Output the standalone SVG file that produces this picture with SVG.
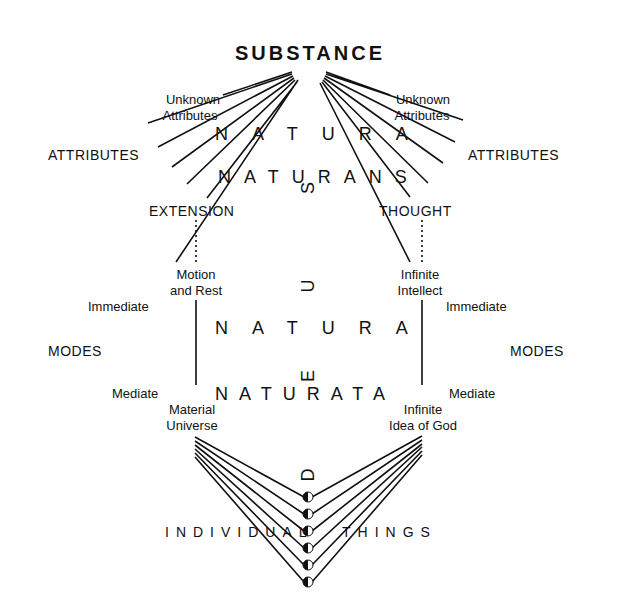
<svg xmlns="http://www.w3.org/2000/svg" width="617" height="615" viewBox="0 0 617 615">
<style>
text{font-family:"Liberation Sans",Arial,sans-serif;fill:#111}
.s{font-size:13px}
.m{font-size:14px;letter-spacing:0.5px}
.b{font-size:18px}
.t{font-size:20px;font-weight:bold;letter-spacing:3px}
.l{stroke:#111;stroke-width:1.6;fill:none}
</style>
<rect width="617" height="615" fill="#fff"/>
<g id="connectors" class="l">
<path d="M292,72L223,95M292,74L148,123M293,76L158,147M294,78L172,167M295,80L187,184M297,82L207,198M298,80L176,262"/>
<path d="M326,72L390,95M326,74L463,120M325,76L455,142M324,78L443,163M323,80L428,183M322,82L410,197M320,83L410,262"/>
<path d="M196,220V262M422,220V262" stroke-dasharray="2,3"/>
<path d="M196,300V385M422,300V385"/>
<path d="M195,437L304,497M195,441L304,514M195,445L304,531M195,449L304,548M195,453L304,565M195,457L304,582"/>
<path d="M422,436L312,497M422,440L312,514M422,444L312,531M422,447L312,548M422,451L312,565M422,455L312,582"/>
</g>
<g id="dots">
<g id="d1"><circle cx="308" cy="497" r="5" fill="#fff" stroke="#111"/><path d="M308,492A5,5 0 0 0 308,502Z" fill="#111"/></g>
<g id="d2"><circle cx="308" cy="514" r="5" fill="#fff" stroke="#111"/><path d="M308,509A5,5 0 0 0 308,519Z" fill="#111"/></g>
<g id="d3"><circle cx="308" cy="531" r="5" fill="#fff" stroke="#111"/><path d="M308,526A5,5 0 0 0 308,536Z" fill="#111"/></g>
<g id="d4"><circle cx="308" cy="548" r="5" fill="#fff" stroke="#111"/><path d="M308,543A5,5 0 0 0 308,553Z" fill="#111"/></g>
<g id="d5"><circle cx="308" cy="565" r="5" fill="#fff" stroke="#111"/><path d="M308,560A5,5 0 0 0 308,570Z" fill="#111"/></g>
<g id="d6"><circle cx="308" cy="582" r="5" fill="#fff" stroke="#111"/><path d="M308,577A5,5 0 0 0 308,587Z" fill="#111"/></g>
</g>
<g id="substance"><text class="t" x="310" y="60" text-anchor="middle">SUBSTANCE</text></g>
<g id="unknownL"><text class="s" x="193" y="104" text-anchor="middle">Unknown</text><text class="s" x="190" y="120" text-anchor="middle">Attributes</text></g>
<g id="unknownR"><text class="s" x="423" y="104" text-anchor="middle">Unknown</text><text class="s" x="422" y="120" text-anchor="middle">Attributes</text></g>
<g id="attrL"><text class="m" x="48" y="160">ATTRIBUTES</text></g>
<g id="attrR"><text class="m" x="468" y="160">ATTRIBUTES</text></g>
<g id="natura1"><text class="b" x="215" y="140" style="letter-spacing:24px">NATURA</text></g>
<g id="naturans"><text class="b" x="218" y="183" style="letter-spacing:13px">NATURANS</text></g>
<g id="extension"><text class="m" x="149" y="216">EXTENSION</text></g>
<g id="thought"><text class="m" x="379" y="216">THOUGHT</text></g>
<g id="motion"><text class="s" x="196" y="279" text-anchor="middle">Motion</text><text class="s" x="196" y="295" text-anchor="middle">and Rest</text></g>
<g id="infint"><text class="s" x="420" y="279" text-anchor="middle">Infinite</text><text class="s" x="420" y="295" text-anchor="middle">Intellect</text></g>
<g id="immL"><text class="s" x="88" y="311">Immediate</text></g>
<g id="immR"><text class="s" x="446" y="311">Immediate</text></g>
<g id="modesL"><text class="m" x="48" y="356">MODES</text></g>
<g id="modesR"><text class="m" x="510" y="356">MODES</text></g>
<g id="natura2"><text class="b" x="215" y="334" style="letter-spacing:24px">NATURA</text></g>
<g id="naturata"><text class="b" x="215" y="400" style="letter-spacing:11px">NATURATA</text></g>
<g id="medL"><text class="s" x="112" y="398">Mediate</text></g>
<g id="medR"><text class="s" x="449" y="398">Mediate</text></g>
<g id="matuni"><text class="s" x="192" y="414" text-anchor="middle">Material</text><text class="s" x="192" y="430" text-anchor="middle">Universe</text></g>
<g id="infidea"><text class="s" x="423" y="414" text-anchor="middle">Infinite</text><text class="s" x="423" y="430" text-anchor="middle">Idea of God</text></g>
<g id="individual"><text class="m" x="165" y="537" style="letter-spacing:7px">INDIVIDUAL</text><text class="m" x="342" y="537" style="letter-spacing:7px">THINGS</text></g>
<g id="deus">
<text class="b" transform="translate(314,475) rotate(-90)" text-anchor="middle">D</text>
<text class="b" transform="translate(314,376) rotate(-90)" text-anchor="middle">E</text>
<text class="b" transform="translate(314,286) rotate(-90)" text-anchor="middle">U</text>
<text class="b" transform="translate(314,188) rotate(-90)" text-anchor="middle">S</text>
</g>
</svg>
